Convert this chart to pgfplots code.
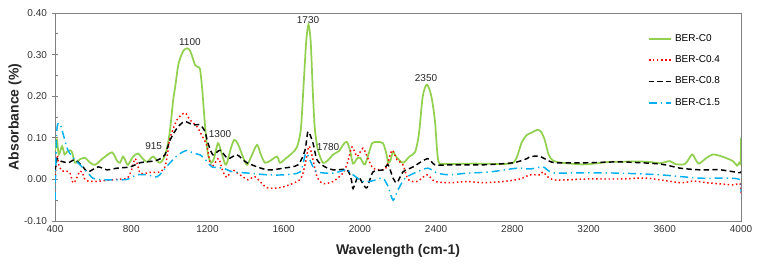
\documentclass[border=0pt]{standalone}
\usepackage{pgfplots}
\pgfplotsset{compat=1.18}
\usepackage{fontspec}
\setmainfont{Liberation Sans}

\definecolor{cZero}{RGB}{146,208,80}
\definecolor{cFour}{RGB}{255,0,0}
\definecolor{cEight}{RGB}{0,0,0}
\definecolor{cFifteen}{RGB}{0,176,240}
\definecolor{frame}{RGB}{128,128,128}

\begin{document}
\begin{tikzpicture}
\begin{axis}[
  scale only axis,
  width=514.5pt, height=156pt,
  xmin=400, xmax=4000, ymin=-0.10, ymax=0.40,
  xtick={400,800,...,4000},
  ytick={-0.10,0,0.10,0.20,0.30,0.40},
  minor ytick={-0.05,0.05,0.15,0.25,0.35},
  ytick pos=left,
  axis line style={frame, line width=0.6pt},
  every tick/.style={frame, line width=0.6pt},
  xtick style={draw=none},
  ytick align=center,
  major tick length=5pt,
  minor tick length=2.5pt,
  minor y tick style={xshift=1.25pt},
  tick label style={font=\fontsize{7.5}{9}\selectfont, text=black!80},
  /pgf/number format/assume math mode=true,
  yticklabel style={/pgf/number format/.cd, fixed, fixed zerofill, precision=2},
  xticklabel style={/pgf/number format/.cd, fixed, 1000 sep={}},
  xlabel={\textbf{Wavelength (cm-1)}},
  ylabel={\textbf{Absorbance (\%)}},
  label style={font=\fontsize{10.5}{12}\selectfont, text=black!85},
  xlabel style={at={(axis description cs:0.5,-0.144)}, anchor=center},
  ylabel style={at={(axis description cs:-0.0583,0.5)}, anchor=center, rotate=0},
  legend style={at={(0.858,0.925)}, anchor=north west, draw=none, fill=none,
    font=\fontsize{7.5}{9}\selectfont, row sep=5.3pt,
    /tikz/every even column/.append style={column sep=0pt}},
  legend cell align=left,
  clip=true,
]
% BER-C0
\addplot[cZero, line width=1.3pt, smooth, tension=0.45] coordinates {
(400,0.07) (410,0.095) (420,0.06) (437,0.08) (450,0.06) (463,0.066) (479,0.07)
(490,0.065) (505,0.04) (530,0.048) (557,0.052) (585,0.04) (610,0.035) (650,0.05)
(699,0.065) (725,0.045) (741,0.04) (757,0.055) (770,0.045) (783,0.035) (810,0.055)
(836,0.062) (860,0.05) (883,0.042) (914,0.055) (935,0.045) (951,0.04) (970,0.05)
(990,0.08) (1004,0.12) (1020,0.19) (1030,0.22) (1045,0.27) (1056,0.29) (1075,0.31)
(1093,0.315) (1108,0.31) (1124,0.29) (1135,0.275) (1150,0.27) (1161,0.265)
(1172,0.22) (1182,0.16) (1193,0.10) (1203,0.06) (1219,0.04) (1234,0.05)
(1255,0.087) (1270,0.07) (1292,0.037) (1303,0.04) (1320,0.07) (1340,0.095)
(1360,0.085) (1390,0.05) (1408,0.035) (1430,0.055) (1460,0.083) (1480,0.06)
(1502,0.04) (1530,0.045) (1565,0.055) (1581,0.04) (1610,0.05) (1644,0.063)
(1670,0.078) (1690,0.12) (1705,0.23) (1718,0.33) (1730,0.372) (1742,0.33)
(1754,0.20) (1764,0.12) (1780,0.07) (1806,0.04) (1830,0.045) (1860,0.06)
(1890,0.068) (1915,0.085) (1932,0.09) (1948,0.07) (1964,0.038) (1985,0.05)
(2001,0.052) (2016,0.04) (2027,0.036) (2045,0.06) (2064,0.087) (2090,0.09)
(2121,0.087) (2140,0.06) (2148,0.04) (2160,0.045) (2174,0.066) (2190,0.055)
(2226,0.04) (2260,0.055) (2290,0.066) (2310,0.11) (2330,0.20) (2352,0.228)
(2375,0.20) (2394,0.14) (2405,0.07) (2415,0.04) (2450,0.037) (2600,0.038)
(2750,0.037) (2804,0.04) (2825,0.055) (2850,0.09) (2877,0.107) (2900,0.112)
(2930,0.119) (2950,0.115) (2970,0.095) (2990,0.06) (3014,0.045) (3060,0.04)
(3171,0.036) (3250,0.039) (3313,0.042) (3454,0.043) (3520,0.042) (3575,0.039)
(3627,0.044) (3654,0.037) (3706,0.037) (3743,0.06) (3765,0.045) (3780,0.038)
(3820,0.052) (3853,0.06) (3900,0.055) (3958,0.044) (3979,0.033) (3990,0.04)
(3998,0.04) (4000,0.10)
};
\addlegendentry{BER-C0}
% BER-C0.4
\addplot[cFour, line width=1.1pt, dotted, smooth, tension=0.45] coordinates {
(400,0.0) (405,0.03) (412,0.058) (420,0.035) (437,0.02) (460,0.02) (479,0.015)
(494,-0.008) (505,-0.005) (520,0.01) (531,0.02) (542,0.018) (557,0.0) (573,-0.004)
(600,-0.005) (636,-0.004) (680,-0.002) (725,0.0) (778,0.003) (800,0.02) (820,0.05)
(836,0.03) (846,0.015) (883,0.015) (899,0.017) (951,0.018) (977,0.03) (990,0.06)
(1004,0.10) (1040,0.143) (1082,0.16) (1108,0.143) (1145,0.127) (1177,0.10)
(1198,0.08) (1213,0.04) (1224,0.03) (1240,0.04) (1260,0.05) (1280,0.02)
(1303,0.005) (1329,0.023) (1371,0.011) (1413,-0.001) (1450,0.006) (1513,-0.02)
(1597,-0.018) (1686,0.0) (1712,0.035) (1733,0.08) (1754,0.047) (1775,0.006)
(1806,-0.01) (1859,-0.005) (1911,0.015) (1935,0.04) (1959,0.078) (1985,0.055)
(2016,0.075) (2043,0.05) (2069,0.027) (2121,0.023) (2140,0.03) (2169,0.07)
(2195,0.047) (2226,0.035) (2253,0.0) (2300,-0.005) (2352,0.011) (2394,-0.005)
(2473,-0.008) (2562,-0.005) (2646,-0.008) (2751,-0.005) (2840,0.001)
(2893,0.011) (2945,0.011) (2961,0.018) (3014,-0.001) (3192,0.001) (3365,0.001)
(3507,0.003) (3680,-0.008) (3748,-0.004) (3822,-0.008) (3958,-0.013)
(3995,-0.01) (4000,-0.035)
};
\addlegendentry{BER-C0.4}
% BER-C0.8
\addplot[cEight, line width=1.1pt, dash pattern=on 4pt off 2.5pt, smooth, tension=0.45] coordinates {
(400,0.02) (410,0.05) (420,0.045) (437,0.043) (470,0.04) (505,0.047) (547,0.03)
(573,0.018) (626,0.03) (673,0.023) (725,0.027) (794,0.03) (846,0.04) (899,0.043)
(941,0.047) (977,0.059) (1004,0.095) (1046,0.127) (1082,0.139) (1124,0.131)
(1161,0.131) (1187,0.115) (1203,0.087) (1229,0.059) (1266,0.07) (1308,0.05)
(1355,0.059) (1408,0.04) (1513,0.023) (1597,0.027) (1675,0.035) (1712,0.07)
(1728,0.115) (1754,0.087) (1775,0.047) (1817,0.03) (1859,0.023) (1932,0.023)
(1955,0.0) (1964,-0.022) (1990,0.006) (2016,-0.01) (2037,-0.02) (2069,0.018)
(2121,0.023) (2148,0.035) (2174,0.003) (2195,-0.008) (2226,0.018) (2279,0.03)
(2355,0.05) (2394,0.035) (2473,0.035) (2646,0.035) (2804,0.04) (2877,0.05)
(2893,0.055) (2945,0.055) (2998,0.043) (3034,0.04) (3192,0.04) (3365,0.042)
(3575,0.037) (3680,0.027) (3785,0.023) (3890,0.023) (3995,0.016) (4000,0.02)
};
\addlegendentry{BER-C0.8}
% BER-C1.5
\addplot[cFifteen, line width=1.1pt, dash pattern=on 6pt off 3pt on 1pt off 3pt, smooth, tension=0.45] coordinates {
(400,-0.05) (410,0.12) (426,0.133) (442,0.11) (468,0.07) (505,0.047) (531,0.035)
(568,0.018) (599,0.003) (652,-0.001) (725,-0.001) (778,0.0) (830,0.011)
(883,0.011) (935,0.006) (962,0.018) (1004,0.04) (1046,0.059) (1093,0.07)
(1124,0.063) (1161,0.059) (1198,0.043) (1224,0.03) (1282,0.027) (1334,0.018)
(1423,0.015) (1513,0.011) (1597,0.011) (1686,0.018) (1717,0.063) (1749,0.035)
(1775,0.018) (1859,0.015) (1932,0.023) (1964,0.011) (2016,-0.005) (2053,-0.005)
(2090,0.0) (2121,0.003) (2148,-0.017) (2174,-0.05) (2200,-0.025) (2237,0.003)
(2300,0.018) (2357,0.027) (2405,0.015) (2473,0.011) (2562,0.015) (2683,0.018)
(2825,0.027) (2893,0.025) (2961,0.03) (3014,0.016) (3192,0.016) (3365,0.015)
(3575,0.011) (3785,0.003) (3927,0.003) (3995,-0.001) (4000,-0.03)
};
\addlegendentry{BER-C1.5}

% peak labels
\begin{scope}[every node/.style={font=\fontsize{7.5}{9}\selectfont, text=black!85}]
\node at (axis cs:1108,0.330) {1100};
\node at (axis cs:918,0.079) {915};
\node at (axis cs:1266,0.109) {1300};
\node at (axis cs:1728,0.383) {1730};
\node at (axis cs:1833,0.078) {1780};
\node at (axis cs:2347,0.244) {2350};
\end{scope}
\end{axis}
\pgfresetboundingbox
\path ([shift={(-41.25pt,-32.25pt)}]current axis.south west)
  rectangle ([shift={(12.75pt,9.75pt)}]current axis.north east);
\end{tikzpicture}
\end{document}
